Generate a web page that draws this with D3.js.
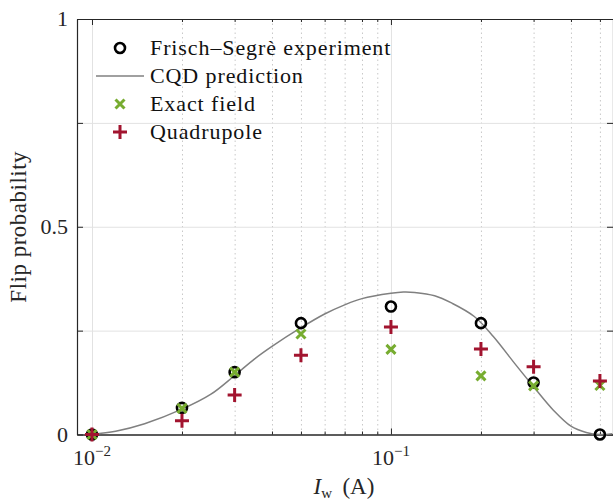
<!DOCTYPE html>
<html>
<head>
<meta charset="utf-8">
<script src="https://cdn.jsdelivr.net/npm/d3@7"></script>
<style>
  body { margin: 0; background: #fff; }
  svg text { font-family: "Liberation Serif", "Times New Roman", "DejaVu Serif", serif; }
</style>
</head>
<body>
<svg id="chart" width="613" height="500"></svg>
<script>
// 电流 (A)
const currents = [0.01, 0.02, 0.03, 0.05, 0.1, 0.2, 0.3, 0.5];
// 实验数据
const experiment = [0, 0.064, 0.150, 0.268, 0.308, 0.268, 0.125, 0];
// 精确场
const exactField = [0, 0.063, 0.150, 0.242, 0.205, 0.141, 0.117, 0.118];
// 四极场
const quadrupole = [0, 0.033, 0.095, 0.191, 0.259, 0.206, 0.163, 0.129];
// CQD 曲线
const cqdCurrents = [0.01, 0.012, 0.015, 0.02, 0.025, 0.03, 0.035, 0.04, 0.05, 0.06, 0.07, 0.08, 0.1, 0.11,
                     0.12, 0.14, 0.16, 0.19, 0.22, 0.26, 0.3, 0.35, 0.4, 0.45, 0.5, 0.55];
const cqdValues = [0.0005, 0.008, 0.026, 0.061, 0.097, 0.142, 0.182, 0.212, 0.257, 0.290, 0.312, 0.327, 0.340, 0.343,
                   0.342, 0.334, 0.316, 0.284, 0.236, 0.170, 0.115, 0.058, 0.020, 0.005, 0.0, 0.002];
// 刻度
const xMajor = [0.01, 0.1];
const xMinor = [0.02, 0.03, 0.04, 0.05, 0.06, 0.07, 0.08, 0.09, 0.2, 0.3, 0.4, 0.5];
const xTickExp = ["\u22122", "\u22121"];
const yTicks = [0, 0.25, 0.5, 0.75, 1];
const yLabels = [0, 0.5, 1];
const legendNames = ["Frisch\u2013Segr\u00e8 experiment", "CQD prediction", "Exact field", "Quadrupole"];

const FONT = "Liberation Serif, Times New Roman, DejaVu Serif, serif";
const svg = d3.select("#chart").attr("font-family", FONT);
const box = {left: 77, right: 613, top: 19, bottom: 434.5};
const W = box.right - box.left, H = box.bottom - box.top;

const x = d3.scaleLog().domain([0.00891, 0.553]).range([0, W]);
const y = d3.scaleLinear().domain([0, 1]).range([H, 0]);

const g = svg.append("g").attr("transform", `translate(${box.left},${box.top})`);

// 网格
g.append("g").attr("transform", `translate(0,${H})`)
  .call(d3.axisBottom(x).tickValues(xMinor).tickSize(-H).tickFormat(""))
  .call(s => s.select(".domain").remove())
  .selectAll("line").attr("stroke", "#c8c8c8").attr("stroke-dasharray", "1.5,3");
g.append("g").attr("transform", `translate(0,${H})`)
  .call(d3.axisBottom(x).tickValues(xMajor).tickSize(-H).tickFormat(""))
  .call(s => s.select(".domain").remove())
  .selectAll("line").attr("stroke", "#e2e2e2");
g.append("g")
  .call(d3.axisLeft(y).tickValues([0.25, 0.5, 0.75]).tickSize(-W).tickFormat(""))
  .call(s => s.select(".domain").remove())
  .selectAll("line").attr("stroke", "#e2e2e2");

// 坐标轴 (刻度向内)
const axisColor = "#262626";
function styleAxis(s) {
  s.select(".domain").attr("stroke", axisColor).attr("stroke-width", 1.2);
  s.selectAll("line").attr("stroke", axisColor);
}
g.append("g").attr("transform", `translate(0,${H})`)
  .call(d3.axisBottom(x).tickValues(xMajor).tickSizeInner(-6).tickSizeOuter(0).tickFormat(""))
  .call(styleAxis);
g.append("g").attr("transform", `translate(0,${H})`)
  .call(d3.axisBottom(x).tickValues(xMinor).tickSizeInner(-3).tickSizeOuter(0).tickFormat(""))
  .call(styleAxis);
g.append("g")
  .call(d3.axisTop(x).tickValues(xMajor).tickSizeInner(-6).tickSizeOuter(0).tickFormat(""))
  .call(styleAxis);
g.append("g")
  .call(d3.axisTop(x).tickValues(xMinor).tickSizeInner(-3).tickSizeOuter(0).tickFormat(""))
  .call(styleAxis);
g.append("g")
  .call(d3.axisLeft(y).tickValues(yTicks).tickSizeInner(-6).tickSizeOuter(0).tickFormat(""))
  .call(styleAxis);
g.append("g").attr("transform", `translate(${W},0)`)
  .call(d3.axisRight(y).tickValues(yTicks).tickSizeInner(-6).tickSizeOuter(0).tickFormat(""))
  .call(styleAxis);

// 刻度文字
const tickFont = 22;
g.selectAll(".ylab").data(yLabels).join("text")
  .attr("x", -9).attr("y", d => y(d)).attr("dy", "0.33em")
  .attr("text-anchor", "end").attr("font-size", tickFont).attr("fill", "#262626")
  .text(d => d);
const xl = g.selectAll(".xlab").data(xMajor).join("text")
  .attr("x", d => x(d)).attr("y", H + 30)
  .attr("text-anchor", "middle").attr("font-size", tickFont).attr("fill", "#262626");
xl.append("tspan").text("10");
xl.append("tspan").attr("dy", -9).attr("font-size", 15).text((d, i) => xTickExp[i]);

// 轴标题
const xt = svg.append("text").attr("x", box.left + x(0.1) - 47).attr("y", 494)
  .attr("text-anchor", "middle").attr("font-size", 23).attr("fill", "#262626");
xt.append("tspan").attr("font-style", "italic").text("I");
xt.append("tspan").attr("dy", 4).attr("font-size", 15).text("w");
xt.append("tspan").attr("dy", -4).text("\u2009 (A)");
svg.append("text")
  .attr("transform", `translate(26,${box.top + H / 2}) rotate(-90)`)
  .attr("text-anchor", "middle").attr("font-size", 23).attr("fill", "#262626")
  .attr("letter-spacing", 0.5)
  .text("Flip probability");

// 数据
const pts = (vals) => currents.map((c, i) => ({c, v: vals[i]}));
const curve = d3.line().x(d => x(d.c)).y(d => y(d.v)).curve(d3.curveCatmullRom.alpha(0.5));
const plot = g.append("g");

plot.append("path").datum(cqdCurrents.map((c, i) => ({c, v: cqdValues[i]})))
  .attr("d", curve).attr("fill", "none").attr("stroke", "#808080").attr("stroke-width", 1.5);

const green = "#77AC30", red = "#A2142F";
function circleMark(sel) {
  sel.append("circle").attr("r", 5).attr("fill", "none").attr("stroke", "#000").attr("stroke-width", 2.6);
}
function crossMark(sel) {
  sel.append("path").attr("d", "M-4.5,-4.5L4.5,4.5M-4.5,4.5L4.5,-4.5")
    .attr("stroke", green).attr("stroke-width", 3).attr("fill", "none");
}
function plusMark(sel) {
  sel.append("path").attr("d", "M-7,0H7M0,-7V7")
    .attr("stroke", red).attr("stroke-width", 3).attr("fill", "none");
}
plot.selectAll(".exp").data(pts(experiment)).join("g")
  .attr("transform", d => `translate(${x(d.c)},${y(d.v)})`).call(circleMark);
plot.selectAll(".ex").data(pts(exactField)).join("g")
  .attr("transform", d => `translate(${x(d.c)},${y(d.v)})`).call(crossMark);
plot.selectAll(".qd").data(pts(quadrupole)).join("g")
  .attr("transform", d => `translate(${x(d.c)},${y(d.v)})`).call(plusMark);

// 图例
const legend = svg.append("g").attr("transform", "translate(120,48)");
const rowH = 28;
const markers = [circleMark, null, crossMark, plusMark];
legendNames.forEach((name, i) => {
  const row = legend.append("g").attr("transform", `translate(0,${i * rowH})`);
  if (markers[i]) row.call(markers[i]);
  else row.append("line").attr("x1", -24).attr("x2", 24).attr("stroke", "#808080").attr("stroke-width", 1.5);
  row.append("text").attr("x", 30).attr("dy", "0.33em").attr("font-size", 22)
    .attr("letter-spacing", 0.9).attr("fill", "#111").text(name);
});
</script>
</body>
</html>
